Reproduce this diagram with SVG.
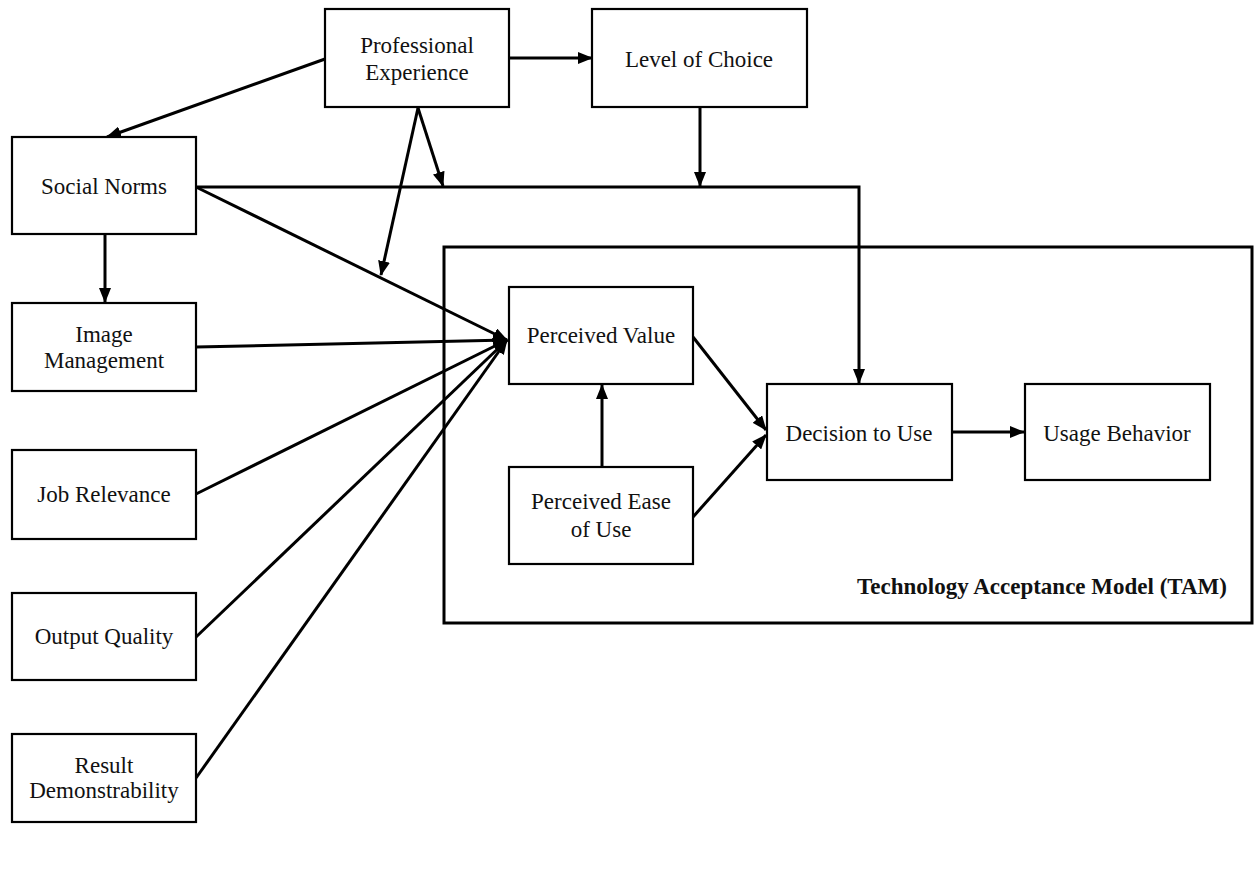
<svg xmlns="http://www.w3.org/2000/svg" width="1254" height="876" viewBox="0 0 1254 876">
  <style>
    .box { fill: #fff; stroke: #000; stroke-width: 2.2; }
    .frame { fill: none; stroke: #000; stroke-width: 3; }
    .lbl { font-family: "Liberation Serif", "Times New Roman", serif; font-size: 23px; fill: #111; text-anchor: middle; }
    .title { font-family: "Liberation Serif", "Times New Roman", serif; font-size: 23px; font-weight: bold; fill: #111; text-anchor: middle; }
    .edge { fill: none; stroke: #000; stroke-width: 3; }
    .arrow { marker-end: url(#head); }
  </style>
  <defs>
    <marker id="head" markerUnits="userSpaceOnUse" markerWidth="15" markerHeight="12" refX="14" refY="6" orient="auto">
      <path d="M0,0 L15,6 L0,12 z" fill="#000"/>
    </marker>
  </defs>
  <rect width="1254" height="876" fill="#fff"/>

  <!-- TAM boundary -->
  <g id="tam">
    <rect class="frame" x="444" y="247" width="808" height="376"/>
    <text class="title" x="1042" y="594">Technology Acceptance Model (TAM)</text>
  </g>

  <!-- connectors -->
  <g id="connectors">
    <line class="edge arrow" x1="509" y1="58" x2="592" y2="58"/>
    <line class="edge arrow" x1="325" y1="59" x2="107" y2="137"/>
    <line class="edge arrow" x1="105" y1="234" x2="105" y2="302"/>
    <polyline class="edge arrow" points="196,187 859,187 859,383"/>
    <line class="edge arrow" x1="700" y1="107" x2="700" y2="186"/>
    <line class="edge arrow" x1="418" y1="108" x2="443" y2="186"/>
    <line class="edge arrow" x1="418" y1="108" x2="381" y2="275"/>
    <line class="edge arrow" x1="196" y1="187" x2="507" y2="340"/>
    <line class="edge arrow" x1="196" y1="347" x2="507" y2="340"/>
    <line class="edge arrow" x1="196" y1="494" x2="507" y2="340"/>
    <line class="edge arrow" x1="196" y1="637" x2="507" y2="340"/>
    <line class="edge arrow" x1="196" y1="778" x2="507" y2="340"/>
    <line class="edge arrow" x1="602" y1="467" x2="602" y2="385"/>
    <line class="edge arrow" x1="693" y1="337" x2="766" y2="430"/>
    <line class="edge arrow" x1="693" y1="517" x2="766" y2="435"/>
    <line class="edge arrow" x1="952" y1="432" x2="1024" y2="432"/>
  </g>

  <g id="professional-experience">
    <rect class="box" x="325" y="9" width="184" height="98"/>
    <text class="lbl" x="417" y="53">Professional</text>
    <text class="lbl" x="417" y="80">Experience</text>
  </g>
  <g id="level-of-choice">
    <rect class="box" x="592" y="9" width="215" height="98"/>
    <text class="lbl" x="699" y="67">Level of Choice</text>
  </g>
  <g id="social-norms">
    <rect class="box" x="12" y="137" width="184" height="97"/>
    <text class="lbl" x="104" y="194">Social Norms</text>
  </g>
  <g id="image-management">
    <rect class="box" x="12" y="303" width="184" height="88"/>
    <text class="lbl" x="104" y="342">Image</text>
    <text class="lbl" x="104" y="368">Management</text>
  </g>
  <g id="job-relevance">
    <rect class="box" x="12" y="450" width="184" height="89"/>
    <text class="lbl" x="104" y="502">Job Relevance</text>
  </g>
  <g id="output-quality">
    <rect class="box" x="12" y="593" width="184" height="87"/>
    <text class="lbl" x="104" y="644">Output Quality</text>
  </g>
  <g id="result-demonstrability">
    <rect class="box" x="12" y="734" width="184" height="88"/>
    <text class="lbl" x="104" y="773">Result</text>
    <text class="lbl" x="104" y="798">Demonstrability</text>
  </g>
  <g id="perceived-value">
    <rect class="box" x="509" y="287" width="184" height="97"/>
    <text class="lbl" x="601" y="343">Perceived Value</text>
  </g>
  <g id="perceived-ease-of-use">
    <rect class="box" x="509" y="467" width="184" height="97"/>
    <text class="lbl" x="601" y="509">Perceived Ease</text>
    <text class="lbl" x="601" y="537">of Use</text>
  </g>
  <g id="decision-to-use">
    <rect class="box" x="767" y="384" width="185" height="96"/>
    <text class="lbl" x="859" y="441">Decision to Use</text>
  </g>
  <g id="usage-behavior">
    <rect class="box" x="1025" y="384" width="185" height="96"/>
    <text class="lbl" x="1117" y="441">Usage Behavior</text>
  </g>
</svg>
